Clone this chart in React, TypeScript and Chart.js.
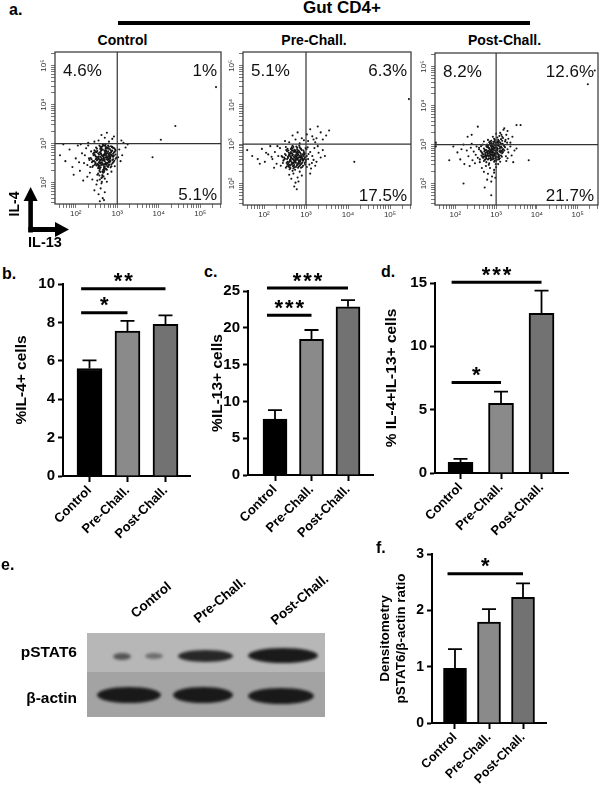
import { useEffect, useRef } from "react";
import { Chart, registerables } from "chart.js";

Chart.register(...registerables);

const FONT = "'Liberation Sans', Arial, Helvetica, sans-serif";
Chart.defaults.font.family = FONT;
Chart.defaults.color = "#000";

// ---- panel a: flow cytometry (log10 IL-13 , log10 IL-4) ----
const groups = ["Control", "Pre-Chall.", "Post-Chall."];
const decades = [2, 3, 4, 5];
const decadeLabels = ["10²", "10³", "10⁴", "10⁵"];
const gateLog = 3;
const upperLeftPct = [4.6, 5.1, 8.2];
const upperRightPct = [1, 6.3, 12.6];
const lowerRightPct = [5.1, 17.5, 21.7];

const controlEvents = `
2.62,2.71 2.70,2.55 2.55,2.62 2.78,2.80 2.66,2.45 2.50,2.78 2.84,2.66 2.72,2.92 2.58,2.35 2.90,2.74
2.44,2.55 2.68,2.63 2.76,2.42 2.61,2.88 2.53,2.48 2.81,2.57 2.70,2.70 2.47,2.69 2.93,2.88 2.64,2.28
2.57,2.95 2.74,2.60 2.86,2.47 2.40,2.40 2.69,2.82 2.52,2.20 2.79,2.73 2.63,2.52 2.96,2.61 2.45,2.83
2.59,2.66 2.73,2.35 2.88,2.92 2.36,2.63 2.67,2.16 2.82,2.86 2.55,2.41 2.91,2.53 2.49,2.90 2.77,2.50
2.65,2.98 2.60,2.58 2.71,2.77 2.84,2.39 2.42,2.74 2.57,2.30 2.75,2.68 2.68,2.40 2.94,2.79 2.51,2.57
2.62,2.12 2.80,2.62 2.46,2.46 2.72,2.87 2.87,2.70 2.54,2.75 2.66,2.33 2.78,2.95 2.39,2.52 2.60,2.80
2.64,2.68 2.71,2.49 2.58,2.77 2.83,2.73 2.67,2.57 2.53,2.65 2.76,2.90 2.69,2.38 2.61,2.45 2.86,2.80
2.48,2.60 2.74,2.74 2.63,2.92 2.79,2.44 2.56,2.52 2.90,2.66 2.66,2.25 2.72,2.64 2.59,2.86 2.81,2.52
2.43,2.70 2.70,2.95 2.77,2.58 2.54,2.37 2.85,2.93 2.68,2.72 2.62,2.60 2.74,2.47 2.50,2.44 2.88,2.58
2.65,2.85 2.57,2.18 2.80,2.68 2.69,2.30 2.96,2.72 2.46,2.77 2.73,2.83 2.60,2.50 2.83,2.61 2.67,2.66
2.61,2.74 2.73,2.51 2.57,2.59 2.85,2.77 2.69,2.47 2.52,2.81 2.81,2.69 2.75,2.89 2.60,2.39 2.92,2.77
2.47,2.52 2.66,2.61 2.78,2.40 2.63,2.85 2.55,2.45 2.83,2.54 2.72,2.72 2.49,2.66 2.95,2.85 2.67,2.31
2.59,2.92 2.76,2.63 2.89,2.50 2.42,2.43 2.71,2.79 2.54,2.23 2.81,2.76 2.65,2.49 2.98,2.64 2.48,2.80
2.62,2.63 2.75,2.33 2.90,2.89 2.38,2.60 2.64,2.19 2.84,2.83 2.57,2.43 2.93,2.56 2.51,2.87 2.79,2.53
2.67,2.96 2.58,2.55 2.73,2.79 2.86,2.42 2.44,2.77 2.59,2.27 2.77,2.65 2.70,2.42 2.96,2.82 2.53,2.59
2.64,2.14 2.82,2.65 2.48,2.49 2.74,2.89 2.89,2.68 2.56,2.72 2.68,2.35 2.80,2.92 2.41,2.55 2.62,2.83
2.66,2.70 2.73,2.46 2.60,2.75 2.85,2.71 2.69,2.59 2.55,2.67 2.78,2.87 2.71,2.36 2.63,2.47 2.88,2.82
2.50,2.62 2.76,2.76 2.65,2.94 2.81,2.46 2.58,2.50 2.92,2.69 2.68,2.27 2.74,2.66 2.61,2.89 2.83,2.55
2.45,2.72 2.72,2.97 2.79,2.60 2.56,2.39 2.87,2.91 2.70,2.74 2.64,2.57 2.76,2.49 2.52,2.46 2.90,2.60
2.33,2.58 2.37,2.80 2.28,2.45 2.34,2.25 2.58,2.08 2.70,2.10 2.63,2.02 2.77,2.22 2.86,2.28 2.94,2.42
1.62,2.70 1.75,2.55 1.85,2.85 1.92,2.40 2.00,2.62 2.05,2.95 2.10,2.30 2.15,2.75 2.20,2.50 2.25,2.88
2.28,2.15 2.32,2.62 2.18,2.05 2.08,2.52 1.95,2.20 2.35,2.40 2.30,2.95 2.22,2.70 1.70,2.98 2.12,2.98
2.50,1.95 2.60,1.85 2.55,1.70 2.65,1.60 2.58,1.52 2.70,1.75 2.45,1.80 2.62,1.98 2.75,2.02 2.52,2.05
2.40,2.08 2.68,1.55 2.55,3.08 2.70,3.15 2.80,3.05 2.62,3.22 2.88,3.12 2.45,3.05 2.75,3.28 2.92,3.18
2.30,3.02 3.05,2.85 3.12,2.70 3.08,2.55 3.20,2.90 3.02,2.65 3.15,3.02 3.10,3.08 3.25,2.98 4.40,3.45
3.85,2.65 4.05,3.10 5.38,4.45`;

const preEvents = `
2.62,2.70 2.75,2.58 2.80,2.76 2.68,2.50 2.90,2.65 2.55,2.62 2.72,2.84 2.85,2.45 2.66,2.92 2.95,2.80
2.58,2.44 2.78,2.67 2.70,2.38 2.88,2.88 2.50,2.75 2.83,2.55 2.64,2.80 2.97,2.52 2.74,2.72 2.46,2.58
2.60,2.55 2.92,2.73 2.69,2.62 2.81,2.40 2.53,2.85 2.77,2.94 2.87,2.60 2.63,2.46 2.99,2.90 2.71,2.52
2.57,2.68 2.84,2.70 2.67,2.76 2.79,2.48 2.48,2.66 2.93,2.58 2.73,2.86 2.61,2.36 2.86,2.78 2.76,2.64
2.54,2.52 2.89,2.50 2.65,2.66 2.82,2.84 2.70,2.44 3.02,2.70 2.59,2.78 2.80,2.62 2.68,2.96 2.91,2.42
2.42,2.70 2.74,2.56 2.85,2.92 2.62,2.60 2.96,2.64 2.77,2.74 2.52,2.40 2.88,2.70 2.66,2.54 2.79,2.82
2.73,2.66 2.60,2.73 2.83,2.50 2.69,2.83 2.94,2.76 2.56,2.48 2.76,2.42 2.87,2.66 2.64,2.88 2.71,2.60
2.64,2.67 2.77,2.61 2.82,2.73 2.70,2.53 2.92,2.62 2.57,2.65 2.74,2.81 2.87,2.48 2.68,2.89 2.97,2.77
2.60,2.47 2.80,2.64 2.72,2.41 2.90,2.85 2.52,2.72 2.85,2.58 2.66,2.77 2.99,2.55 2.76,2.69 2.48,2.61
2.62,2.58 2.94,2.70 2.71,2.59 2.83,2.43 2.55,2.82 2.79,2.91 2.89,2.63 2.65,2.49 3.01,2.87 2.73,2.55
2.59,2.71 2.86,2.67 2.69,2.73 2.81,2.51 2.50,2.63 2.95,2.61 2.75,2.83 2.63,2.39 2.88,2.75 2.78,2.61
2.56,2.55 2.91,2.53 2.67,2.63 2.84,2.81 2.72,2.47 2.61,2.75 2.82,2.59 2.70,2.93 2.93,2.45 2.44,2.67
2.76,2.53 2.87,2.89 2.64,2.57 2.98,2.67 2.79,2.71 2.54,2.43 2.90,2.67 2.68,2.51 2.81,2.79 2.75,2.63
2.62,2.76 2.85,2.53 2.71,2.80 2.96,2.73 2.58,2.51 2.78,2.45 2.89,2.69 2.66,2.85 2.73,2.57 2.83,2.66
2.58,2.84 2.69,2.44 2.94,2.84 2.77,2.78 2.86,2.56 2.64,2.63 2.80,2.50 2.71,2.68 2.92,2.59 2.67,2.71
2.45,2.52 2.52,2.93 2.60,2.42 3.00,2.60 2.84,2.96 2.74,2.35 2.88,2.40 2.56,2.88 2.98,2.48 2.79,2.87
1.60,2.85 1.72,2.70 1.85,2.62 1.95,2.88 2.02,2.55 2.10,2.74 2.15,2.95 2.20,2.62 2.26,2.80 2.30,2.50
2.34,2.70 2.38,2.90 2.05,2.78 2.24,2.40 1.90,2.50 2.40,2.45 2.32,2.95 2.18,2.68
3.05,2.62 3.10,2.80 3.08,2.48 3.15,2.70 3.20,2.90 3.04,2.92 3.25,2.55 3.12,2.38 3.30,2.78 3.18,2.60
3.06,2.75 3.35,2.66 3.22,2.45 3.40,2.85 3.28,2.95 3.14,2.52 3.02,2.42 3.45,2.70 3.10,2.25 4.15,2.55
3.05,3.08 3.15,3.20 3.22,3.05 3.35,3.30 3.10,3.38 3.40,3.12 3.28,3.45 3.55,3.35 3.18,3.12 3.48,3.22
3.02,3.25 3.25,3.15 5.45,4.15
2.60,3.05 2.75,3.12 2.85,3.02 2.68,3.22 2.90,3.15 2.50,3.08 2.80,3.30 2.95,3.10
2.70,2.25 2.80,2.15 2.75,2.02 2.65,2.12 2.85,2.30 2.72,1.92 2.60,2.22 2.90,2.20 2.78,1.85 2.68,2.32
2.82,2.05`;

const postEvents = `
2.85,2.86 2.95,2.75 3.02,2.92 2.78,2.80 2.90,2.98 3.08,2.82 2.72,2.70 2.98,2.64 2.88,3.04 3.12,2.95
2.80,2.62 2.93,2.88 3.05,2.70 2.70,2.90 2.96,3.08 2.84,2.72 3.15,2.78 2.76,2.96 3.00,2.58 2.89,2.80
2.66,2.78 3.10,3.05 2.82,2.92 2.99,2.84 2.74,2.62 3.06,2.98 2.92,2.68 2.86,2.98 3.18,2.88 2.79,2.74
2.94,2.94 2.68,2.66 3.03,2.78 2.87,2.60 2.98,3.00 2.76,2.86 3.12,2.72 2.83,3.06 2.91,2.82 3.07,2.62
2.62,2.84 2.97,2.72 2.81,2.84 3.04,3.08 2.73,2.76 2.89,2.92 3.14,2.84 2.95,2.56 2.78,3.00 3.01,2.88
2.86,2.70 2.70,2.58 3.09,2.90 2.93,3.02 2.84,2.78 3.20,2.96 2.75,2.68 2.99,2.76 2.88,2.86 3.05,2.66
2.64,2.72 2.92,2.62 3.11,2.80 2.80,2.94 2.96,2.90 2.71,2.82 3.03,2.98 2.85,2.64 2.90,2.76 3.16,3.02
2.87,2.83 2.97,2.78 3.04,2.89 2.80,2.77 2.92,2.95 3.10,2.85 2.74,2.73 3.00,2.67 2.90,3.01 3.14,2.92
2.82,2.65 2.95,2.85 3.07,2.73 2.72,2.87 2.98,3.05 2.86,2.75 3.17,2.81 2.78,2.93 3.02,2.61 2.91,2.83
2.68,2.75 3.12,3.02 2.84,2.89 3.01,2.81 2.76,2.65 3.08,2.95 2.94,2.71 2.88,2.95 3.20,2.85 2.81,2.71
2.96,2.91 2.70,2.69 3.05,2.75 2.89,2.63 3.00,2.97 2.78,2.83 3.14,2.69 2.85,3.03 2.93,2.79 3.09,2.65
2.64,2.81 2.99,2.69 2.83,2.81 3.06,3.05 2.75,2.79 2.91,2.89 3.16,2.87 2.97,2.59 2.80,2.97 3.03,2.85
2.88,2.73 2.72,2.61 3.11,2.93 2.95,2.99 2.86,2.81 3.22,2.93 2.77,2.71 3.01,2.79 2.90,2.89 3.07,2.69
2.66,2.69 2.94,2.65 3.13,2.83 2.82,2.91 2.98,2.93 2.73,2.85 3.05,3.01 2.87,2.67 2.92,2.73 3.18,2.99
3.07,3.09 3.17,3.17 2.97,3.12 3.13,3.25 3.23,3.12 2.85,3.08 3.03,3.18 3.27,3.05 2.93,3.07 3.15,3.10
2.60,2.62 2.58,2.92 2.67,3.00 3.24,2.70 3.28,2.88 2.99,2.50 2.83,2.52 3.10,2.56 2.76,2.55 2.63,2.96
3.05,3.12 3.15,3.20 3.22,3.08 3.10,3.30 3.25,3.25 2.95,3.15 3.18,3.38 3.30,3.15 3.08,3.22 2.88,3.10
3.35,3.05 3.20,3.42 3.00,3.28 2.80,3.12 3.28,3.35 3.12,3.14 2.92,3.20 3.40,3.20 2.70,3.08 3.02,3.05
2.55,3.46 3.60,3.50 3.50,3.50 2.40,3.25 2.30,3.20
1.95,2.95 2.05,2.80 2.12,2.62 2.20,3.00 2.28,2.85 2.32,2.70 2.38,2.92 2.42,2.60 2.45,2.82 2.50,2.74
2.52,2.95 2.55,2.66 2.58,2.88 2.22,2.50 2.35,2.45 2.15,2.88 2.48,2.52 2.60,2.55 2.40,3.02 1.85,2.60
3.30,2.80 3.35,2.95 3.28,2.65 3.45,2.85 3.38,2.72 3.50,2.90 3.80,2.60 3.42,2.55 3.25,2.58
2.75,2.45 2.85,2.40 2.95,2.35 2.80,2.25 2.90,2.18 2.70,2.30 3.00,2.42 2.88,2.05 2.78,2.10 2.95,2.28
2.82,2.48 3.05,2.50 2.65,2.40 2.72,1.90 2.20,2.00 2.88,1.70 2.98,2.15
5.42,4.90 5.25,4.55 1.52,3.00 1.52,2.95 1.52,3.05`;

// ---- panels b, c, d, f: mean + SEM ----
const il4Mean = [5.6, 7.55, 7.9];
const il4Sem = [0.42, 0.53, 0.47];
const il13Mean = [7.6, 18.45, 22.85];
const il13Sem = [1.22, 1.25, 0.9];
const dpMean = [0.85, 5.5, 12.6];
const dpSem = [0.26, 0.92, 1.8];
const pstatMean = [0.97, 1.79, 2.23];
const pstatSem = [0.34, 0.23, 0.25];

const il4Stars = [
  { from: 0, to: 2, at: 9.75, label: "**" },
  { from: 0, to: 1, at: 8.5, label: "*" },
];
const il13Stars = [
  { from: 0, to: 2, at: 25.4, label: "***" },
  { from: 0, to: 1, at: 21.7, label: "***" },
];
const dpStars = [
  { from: 0, to: 2, at: 15.05, label: "***" },
  { from: 0, to: 1, at: 7.15, label: "*" },
];
const pstatStars = [{ from: 0, to: 2, at: 2.65, label: "*" }];

const barFill = ["#000000", "#8a8a8a", "#727272"];

type Box = { left: number; top: number; width: number; height: number };
type Frame = { left: number; top: number; right: number; bottom: number };
type Bracket = { from: number; to: number; at: number; label: string };

function fit(frame: Frame, box: Box) {
  return {
    padding: { left: 0, top: frame.top - box.top, right: box.left + box.width - frame.right, bottom: 0 },
    yWidth: frame.left - box.left,
    xHeight: box.top + box.height - frame.bottom,
  };
}

const parseEvents = (s: string) =>
  s.trim().split(/\s+/).map((p) => {
    const [x, y] = p.split(",").map(Number);
    return { x, y };
  });

const logTicks = (lo: number, hi: number) => {
  const t: number[] = [];
  for (let n = 1; n <= 5; n++)
    for (let k = 1; k <= 9; k++) {
      const v = n + Math.log10(k);
      if (v >= lo && v <= hi) t.push(v);
    }
  return t;
};

const flowDecor = (i: number, labelGap: number) => ({
  id: "flowDecor",
  afterDatasetsDraw(chart: any) {
    const { ctx, chartArea: a, scales } = chart;
    const gx = scales.x.getPixelForValue(gateLog);
    const gy = scales.y.getPixelForValue(gateLog);
    ctx.save();
    ctx.strokeStyle = "#333";
    ctx.lineWidth = 1.2;
    ctx.strokeRect(a.left, a.top, a.right - a.left, a.bottom - a.top);
    ctx.beginPath();
    ctx.moveTo(gx, a.top);
    ctx.lineTo(gx, a.bottom);
    ctx.moveTo(a.left, gy);
    ctx.lineTo(a.right, gy);
    ctx.stroke();
    ctx.fillStyle = "#111";
    ctx.font = `17px ${FONT}`;
    ctx.textBaseline = "alphabetic";
    ctx.textAlign = "left";
    ctx.fillText(`${upperLeftPct[i]}%`, a.left + 8, a.top + 24);
    ctx.textAlign = "right";
    ctx.fillText(`${upperRightPct[i]}%`, a.right - 4, a.top + 24);
    ctx.fillText(`${lowerRightPct[i]}%`, a.right - 4, a.bottom - 4);
    ctx.font = `8px ${FONT}`;
    ctx.fillStyle = "#333";
    decades.forEach((d, k) => {
      ctx.save();
      ctx.translate(a.left - labelGap, scales.y.getPixelForValue(d));
      ctx.rotate(-Math.PI / 2);
      ctx.textAlign = "center";
      ctx.textBaseline = "middle";
      ctx.fillText(decadeLabels[k], 0, 0);
      ctx.restore();
    });
    ctx.restore();
  },
});

function flowConfig(events: string, i: number, frame: Frame, box: Box, labelGap: number) {
  const L = fit(frame, box);
  const grid = { drawOnChartArea: false, drawTicks: true, tickLength: 4, tickColor: "#555", tickWidth: 0.8 };
  return {
    type: "scatter",
    data: {
      datasets: [
        {
          data: parseEvents(events),
          pointRadius: 1.05,
          pointHoverRadius: 1.05,
          pointBackgroundColor: "#151515",
          pointBorderWidth: 0,
        },
      ],
    },
    options: {
      responsive: false,
      animation: false,
      events: [],
      layout: { padding: L.padding },
      plugins: { legend: { display: false }, tooltip: { enabled: false } },
      scales: {
        x: {
          type: "linear",
          min: 1.5,
          max: 5.5,
          afterBuildTicks: (ax: any) => {
            ax.ticks = logTicks(1.5, 5.5).map((v) => ({ value: v }));
          },
          afterFit: (s: any) => {
            s.height = L.xHeight;
          },
          ticks: {
            autoSkip: false,
            maxRotation: 0,
            minRotation: 0,
            padding: 1,
            color: "#333",
            font: { size: 8 },
            callback: (v: number) => {
              const k = decades.indexOf(v);
              return k >= 0 ? decadeLabels[k] : "";
            },
          },
          grid,
          border: { display: false },
        },
        y: {
          type: "linear",
          min: 1.45,
          max: 5.35,
          afterBuildTicks: (ax: any) => {
            ax.ticks = logTicks(1.45, 5.35).map((v) => ({ value: v }));
          },
          afterFit: (s: any) => {
            s.width = L.yWidth;
          },
          ticks: { display: false },
          grid,
          border: { display: false },
        },
      },
    },
    plugins: [flowDecor(i, labelGap)],
  };
}

const barDecor = (sems: number[], brackets: Bracket[]) => ({
  id: "barDecor",
  afterDatasetsDraw(chart: any) {
    const { ctx, scales } = chart;
    const { x, y } = scales;
    const pts = chart.data.datasets[0].data as { x: number; y: number }[];
    ctx.save();
    ctx.strokeStyle = "#000";
    ctx.lineWidth = 1.8;
    pts.forEach((p, i) => {
      const px = x.getPixelForValue(p.x);
      const top = y.getPixelForValue(p.y);
      const tip = y.getPixelForValue(p.y + sems[i]);
      ctx.beginPath();
      ctx.moveTo(px, top);
      ctx.lineTo(px, tip);
      ctx.moveTo(px - 7, tip);
      ctx.lineTo(px + 7, tip);
      ctx.stroke();
    });
    const unit = x.getPixelForValue(1) - x.getPixelForValue(0);
    ctx.lineWidth = 3;
    ctx.fillStyle = "#000";
    ctx.font = `bold 22px ${FONT}`;
    ctx.textAlign = "center";
    ctx.textBaseline = "alphabetic";
    brackets.forEach((b) => {
      const x1 = x.getPixelForValue(b.from) - 0.22 * unit;
      const x2 = x.getPixelForValue(b.to);
      const ly = y.getPixelForValue(b.at);
      ctx.beginPath();
      ctx.moveTo(x1, ly);
      ctx.lineTo(x2, ly);
      ctx.stroke();
      const n = b.label.length;
      const mid = (x1 + x2) / 2;
      for (let k = 0; k < n; k++) ctx.fillText("*", mid + (k - (n - 1) / 2) * 10.5, ly - 0.5);
    });
    ctx.restore();
  },
});

function barConfig(p: {
  means: number[];
  sems: number[];
  brackets: Bracket[];
  yMax: number;
  step: number;
  range: [number, number];
  barPx: number;
  title: string | string[];
  titleSize: number;
  titlePad: number;
  tickSize: number;
  labelSize: number;
  frame: Frame;
  box: Box;
}) {
  const L = fit(p.frame, p.box);
  return {
    type: "bar",
    data: {
      datasets: [
        {
          data: p.means.map((m, i) => ({ x: i, y: m })),
          backgroundColor: barFill,
          borderColor: "#000",
          borderWidth: 2,
          barThickness: p.barPx,
        },
      ],
    },
    options: {
      responsive: false,
      animation: false,
      events: [],
      layout: { padding: L.padding },
      plugins: { legend: { display: false }, tooltip: { enabled: false } },
      scales: {
        x: {
          type: "linear",
          min: p.range[0],
          max: p.range[1],
          offset: false,
          afterBuildTicks: (ax: any) => {
            ax.ticks = groups.map((_, i) => ({ value: i }));
          },
          afterFit: (s: any) => {
            s.height = L.xHeight;
          },
          ticks: {
            autoSkip: false,
            minRotation: 45,
            maxRotation: 45,
            padding: 1,
            color: "#000",
            font: { size: p.labelSize, weight: "bold" },
            callback: (v: number) => groups[v] ?? "",
          },
          grid: { drawOnChartArea: false, drawTicks: true, tickLength: 6, tickColor: "#000", tickWidth: 2, offset: false },
          border: { display: true, color: "#000", width: 2 },
        },
        y: {
          min: 0,
          max: p.yMax,
          afterFit: (s: any) => {
            s.width = L.yWidth;
          },
          ticks: { stepSize: p.step, padding: 3, color: "#000", font: { size: p.tickSize, weight: "bold" } },
          grid: { drawOnChartArea: false, drawTicks: true, tickLength: 5, tickColor: "#000", tickWidth: 2 },
          border: { display: true, color: "#000", width: 2 },
          title: {
            display: true,
            text: p.title,
            color: "#000",
            font: { size: p.titleSize, weight: "bold", lineHeight: "16px" },
            padding: { top: p.titlePad, bottom: 0 },
          },
        },
      },
    },
    plugins: [barDecor(p.sems, p.brackets)],
  };
}

function ChartBox({ box, make }: { box: Box; make: () => any }) {
  const ref = useRef<HTMLCanvasElement | null>(null);
  useEffect(() => {
    if (!ref.current) return;
    const chart = new Chart(ref.current, make());
    return () => chart.destroy();
  }, []);
  return (
    <div style={{ position: "absolute", left: box.left, top: box.top, width: box.width, height: box.height }}>
      <canvas ref={ref} width={box.width} height={box.height} />
    </div>
  );
}

function Txt({ x, y, size, children, center, weight = 700, style }: any) {
  return (
    <div
      style={{
        position: "absolute",
        left: x,
        top: y,
        fontSize: size,
        fontWeight: weight,
        lineHeight: 1,
        whiteSpace: "nowrap",
        transform: center ? "translateX(-50%)" : undefined,
        ...style,
      }}
    >
      {children}
    </div>
  );
}

const flowBoxes: { frame: Frame; box: Box; gap: number }[] = [
  { frame: { left: 55, top: 52, right: 221, bottom: 204 }, box: { left: 25, top: 45, width: 205, height: 185 }, gap: 11 },
  { frame: { left: 243, top: 52, right: 411, bottom: 205 }, box: { left: 213, top: 45, width: 205, height: 185 }, gap: 11 },
  { frame: { left: 435, top: 53, right: 598, bottom: 205 }, box: { left: 405, top: 45, width: 195, height: 185 }, gap: 11 },
];
const flowEvents = [controlEvents, preEvents, postEvents];
const flowTitleX = [122.5, 314, 504.5];

function Blot() {
  const band = (x: number, w: number, cy: number, h: number, o: number) => (
    <div
      key={`${x}-${cy}`}
      style={{
        position: "absolute",
        left: x,
        top: cy - h / 2,
        width: w,
        height: h,
        borderRadius: "50%",
        background: "#141414",
        opacity: o,
        filter: "blur(1.6px)",
      }}
    />
  );
  return (
    <>
      <div style={{ position: "absolute", left: 87, top: 633, width: 238, height: 39, background: "#b7b7b7" }} />
      <div style={{ position: "absolute", left: 87, top: 672, width: 238, height: 45, background: "#a3a3a3" }} />
      {band(113, 18, 656, 7, 0.6)}
      {band(145, 18, 656, 6, 0.45)}
      {band(178, 55, 656, 12, 0.88)}
      {band(248, 70, 655, 15, 0.96)}
      {band(97, 64, 695, 16, 0.96)}
      {band(173, 60, 695, 16, 0.96)}
      {band(248, 66, 696, 16, 0.96)}
    </>
  );
}

export default function App() {
  return (
    <div
      style={{
        position: "absolute",
        left: 0,
        top: 0,
        width: 600,
        height: 790,
        background: "#fff",
        overflow: "hidden",
        fontFamily: FONT,
        color: "#000",
      }}
    >
      {/* panel a */}
      <Txt x={9} y={1.5} size={16}>a.</Txt>
      <Txt x={303} y={-1} size={17}>Gut CD4+</Txt>
      <div style={{ position: "absolute", left: 118, top: 21, width: 412, height: 4, background: "#000" }} />
      {groups.map((g, i) => (
        <Txt key={g} x={flowTitleX[i]} y={33} size={14} center>
          {g}
        </Txt>
      ))}
      {flowBoxes.map((f, i) => (
        <ChartBox key={i} box={f.box} make={() => flowConfig(flowEvents[i], i, f.frame, f.box, f.gap)} />
      ))}
      <svg style={{ position: "absolute", left: 0, top: 180 }} width={80} height={60}>
        <rect x={28.3} y={18} width={4.6} height={34.5} fill="#000" />
        <polygon points="30.6,7 23.6,21 37.6,21" fill="#000" />
        <rect x={28.3} y={47} width={30} height={5} fill="#000" />
        <polygon points="69,49.5 55,42 55,57" fill="#000" />
      </svg>
      <Txt x={14} y={203.5} size={14} style={{ transform: "translate(-50%, -50%) rotate(-90deg)" }}>
        IL-4
      </Txt>
      <Txt x={28} y={234.7} size={14.5}>IL-13</Txt>

      {/* panels b, c, d */}
      <Txt x={2} y={265.5} size={16}>b.</Txt>
      <Txt x={204} y={263.5} size={16}>c.</Txt>
      <Txt x={381} y={263.5} size={16}>d.</Txt>
      <ChartBox
        box={{ left: 0, top: 255, width: 200, height: 300 }}
        make={() =>
          barConfig({
            means: il4Mean,
            sems: il4Sem,
            brackets: il4Stars,
            yMax: 10,
            step: 2,
            range: [-0.697, 2.645],
            barPx: 25,
            title: "%IL-4+ cells",
            titleSize: 15.5,
            titlePad: 14,
            tickSize: 15,
            labelSize: 13,
            frame: { left: 63, top: 284, right: 190, bottom: 476 },
            box: { left: 0, top: 255, width: 200, height: 300 },
          })
        }
      />
      <ChartBox
        box={{ left: 190, top: 255, width: 200, height: 300 }}
        make={() =>
          barConfig({
            means: il13Mean,
            sems: il13Sem,
            brackets: il13Stars,
            yMax: 25,
            step: 5,
            range: [-0.74, 2.685],
            barPx: 24,
            title: "%IL-13+ cells",
            titleSize: 15.5,
            titlePad: 20,
            tickSize: 15,
            labelSize: 13,
            frame: { left: 248, top: 291, right: 373, bottom: 475 },
            box: { left: 190, top: 255, width: 200, height: 300 },
          })
        }
      />
      <ChartBox
        box={{ left: 370, top: 255, width: 228, height: 300 }}
        make={() =>
          barConfig({
            means: dpMean,
            sems: dpSem,
            brackets: dpStars,
            yMax: 15,
            step: 5,
            range: [-0.63, 2.654],
            barPx: 25,
            title: "% IL-4+IL-13+ cells",
            titleSize: 15.5,
            titlePad: 14,
            tickSize: 15,
            labelSize: 13,
            frame: { left: 435, top: 283, right: 568, bottom: 473 },
            box: { left: 370, top: 255, width: 228, height: 300 },
          })
        }
      />

      {/* panel e */}
      <Txt x={1} y={556.5} size={16}>e.</Txt>
      {groups.map((g, i) => (
        <Txt
          key={g}
          x={[137, 200, 277][i]}
          y={[620, 625, 627][i] - 13.5}
          size={13.5}
          style={{ transformOrigin: "0% 100%", transform: "rotate(-40deg)" }}
        >
          {g}
        </Txt>
      ))}
      <Blot />
      <Txt x={77} y={644} size={15.5} style={{ transform: "translateX(-100%)" }}>pSTAT6</Txt>
      <Txt x={77} y={690} size={15.5} style={{ transform: "translateX(-100%)" }}>β-actin</Txt>

      {/* panel f */}
      <Txt x={376} y={539.5} size={16}>f.</Txt>
      <ChartBox
        box={{ left: 370, top: 530, width: 228, height: 260 }}
        make={() =>
          barConfig({
            means: pstatMean,
            sems: pstatSem,
            brackets: pstatStars,
            yMax: 3,
            step: 1,
            range: [-0.676, 2.676],
            barPx: 23,
            title: ["Densitometry", "pSTAT6/β-actin ratio"],
            titleSize: 13.5,
            titlePad: 7,
            tickSize: 14,
            labelSize: 12.5,
            frame: { left: 432, top: 554, right: 546, bottom: 723 },
            box: { left: 370, top: 530, width: 228, height: 260 },
          })
        }
      />
    </div>
  );
}
